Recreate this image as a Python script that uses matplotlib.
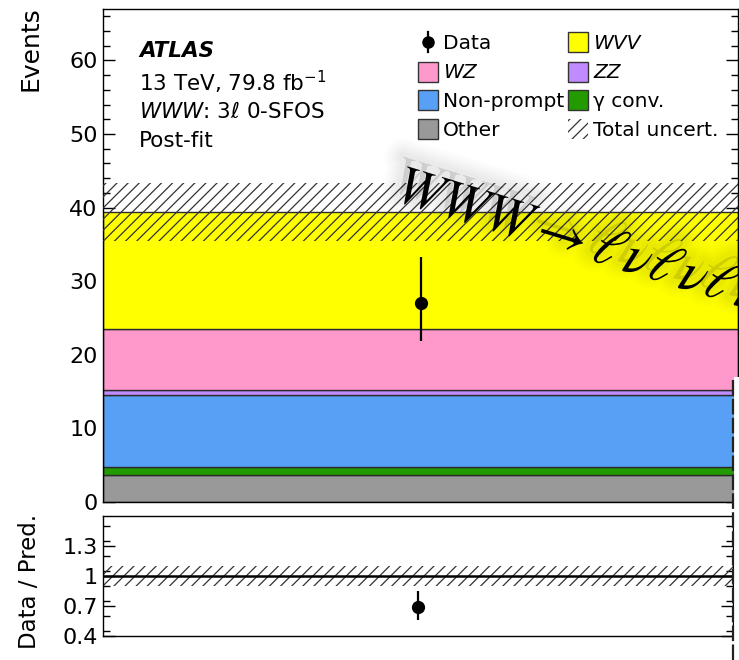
import matplotlib
matplotlib.use("Agg")
import matplotlib.pyplot as plt
import matplotlib.patheffects as pe
from matplotlib.patches import Rectangle
from matplotlib.lines import Line2D
from matplotlib.ticker import MultipleLocator, FixedLocator, FuncFormatter

# Post-fit yields, WWW 3l 0-SFOS signal region (stacked bottom -> top)
processes = ["Other", "γ conv.", "Non-prompt", "ZZ", "WZ", "WVV"]
yields = [3.63, 1.05, 9.84, 0.68, 8.30, 15.90]
colors = ["#999999", "#239a00", "#57a0f5", "#c08bff", "#ff99cc", "#ffff00"]
total_unc = [3.9]

data_obs = [27]
data_err_lo = [5.1]
data_err_hi = [6.25]

W, H = 739, 660
fig = plt.figure(figsize=(W / 100, H / 100), dpi=100)
plt.rcParams["hatch.linewidth"] = 0.9


def fx(x):
    return x / W


def fy(y):
    return 1 - y / H


edge = "#2b2b2b"
hatch_col = "#333333"

# ---------------- main panel ----------------
ax = fig.add_axes([fx(103), fy(501.7), (738 - 103) / W, (501.7 - 9) / H])
bottom = 0.0
for name, val, col in zip(processes, yields, colors):
    ax.bar(0.5, val, width=1.0, bottom=bottom, color=col, edgecolor=edge,
           linewidth=1.0, zorder=2)
    bottom += val
total = bottom

ax.bar(0.5, 2 * total_unc[0], width=1.0, bottom=total - total_unc[0],
       fill=False, hatch="///", edgecolor=hatch_col, linewidth=0, zorder=3)

ax.errorbar([0.5], data_obs, yerr=[data_err_lo, data_err_hi], fmt="o",
            color="black", markersize=8.5, elinewidth=1.6, capsize=0, zorder=5)

ax.set_xlim(0, 1)
ax.set_ylim(0, 67)
ax.yaxis.set_major_locator(MultipleLocator(10))
ax.yaxis.set_minor_locator(MultipleLocator(2))
ax.tick_params(which="both", direction="in", right=True, top=False,
               bottom=False, labelbottom=False, labelsize=16, width=1.0, pad=4)
ax.tick_params(which="major", length=8.6)
ax.tick_params(which="minor", length=5)
for s in ax.spines.values():
    s.set_linewidth(1.0)

fig.text(fx(30), fy(6), "Events", rotation=90, ha="center", va="top",
         fontsize=18)

# ATLAS label block
fig.text(fx(139), fy(57), "ATLAS", fontsize=15.5, fontweight="bold",
         fontstyle="italic", va="baseline")
fig.text(fx(139), fy(91), r"13 TeV, 79.8 fb$^{\mathregular{-1}}$",
         fontsize=15.5, va="baseline")
fig.text(fx(139), fy(118), r"$WWW$: 3$\ell$ 0-SFOS", fontsize=15.5,
         va="baseline")
fig.text(fx(139), fy(147), "Post-fit", fontsize=15.5, va="baseline")

# legend, two columns
row_y = [42, 71.5, 100, 128.5]
col_box = [418, 568]
col_txt = [443, 593]
leg_fs = 14.5
bw, bh = 20, 20
entries = [
    (0, 0, "data", "Data", "normal"),
    (0, 1, "WZ", "WZ", "italic"),
    (0, 2, "Non-prompt", "Non-prompt", "normal"),
    (0, 3, "Other", "Other", "normal"),
    (1, 0, "WVV", "WVV", "italic"),
    (1, 1, "ZZ", "ZZ", "italic"),
    (1, 2, "γ conv.", "γ conv.", "normal"),
    (1, 3, "unc", "Total uncert.", "normal"),
]
for col, row, key, label, style in entries:
    xb = col_box[col]
    yc = row_y[row]
    if key == "data":
        fig.add_artist(Line2D([fx(428)], [fy(yc)], marker="o", color="black",
                              markersize=8, transform=fig.transFigure))
        fig.add_artist(Line2D([fx(428), fx(428)], [fy(yc - 10), fy(yc + 10)],
                              color="black", lw=1.6, transform=fig.transFigure))
    elif key == "unc":
        fig.add_artist(Rectangle((fx(xb), fy(yc + bh / 2)), bw / W, bh / H,
                                 fill=False, hatch="///", edgecolor=hatch_col,
                                 linewidth=0, transform=fig.transFigure))
    else:
        c = colors[processes.index(key)]
        fig.add_artist(Rectangle((fx(xb), fy(yc + bh / 2)), bw / W, bh / H,
                                 facecolor=c, edgecolor="#333333",
                                 linewidth=1.0, transform=fig.transFigure))
    fig.text(fx(col_txt[col]), fy(yc + 7), label, fontsize=leg_fs,
             fontstyle=style, va="baseline", ha="left")

# ---------------- ratio panel ----------------
rax = fig.add_axes([fx(103), fy(636), (733 - 103) / W, (636 - 515.7) / H])
ratio = [d / total for d in data_obs]
r_lo = [e / total for e in data_err_lo]
r_hi = [e / total for e in data_err_hi]
rel_unc = total_unc[0] / total

rax.bar(0.5, 2 * rel_unc, width=1.0, bottom=1 - rel_unc, fill=False,
        hatch="///", edgecolor=hatch_col, linewidth=0, zorder=2)
rax.axhline(1.0, color="black", lw=1.8, zorder=3)
rax.errorbar([0.5], ratio, yerr=[r_lo, r_hi], fmt="o", color="black",
             markersize=8.5, elinewidth=1.6, capsize=0, zorder=5)
rax.set_xlim(0, 1)
rax.set_ylim(0.4, 1.6)
rax.yaxis.set_major_locator(FixedLocator([0.4, 0.7, 1.0, 1.3]))
rax.yaxis.set_minor_locator(MultipleLocator(0.15))
rax.yaxis.set_major_formatter(FuncFormatter(lambda v, p: "%g" % v))
rax.tick_params(which="both", direction="in", right=True, top=False,
                bottom=False, labelbottom=False, labelsize=16, width=1.0, pad=4)
rax.tick_params(which="major", length=8.6)
rax.tick_params(which="minor", length=5)
for s in rax.spines.values():
    s.set_linewidth(1.0)

fig.text(fx(30), fy(514), "Data / Pred.", rotation=90, ha="center", va="top",
         fontsize=16.5)

# process annotation across the panel, with a soft haze behind it
glow = [pe.Stroke(linewidth=lw, foreground="#404040", alpha=0.016,
                  offset=(-3, 7)) for lw in (26, 22, 18, 15, 12, 9, 6)]
fig.text(fx(393), fy(200), r"$WWW \rightarrow \ell\nu\ell\nu\ell\nu$",
         rotation=-17, rotation_mode="anchor", ha="left", va="baseline",
         fontsize=40, math_fontfamily="stix", zorder=6,
         path_effects=glow + [pe.Normal()])

# torn strip at the lower right edge
fig.add_artist(Rectangle((fx(733.5), 0), (W - 733.5) / W, 1 - 377 / H,
                         facecolor="white", edgecolor="none",
                         transform=fig.transFigure, zorder=10))
fig.add_artist(Line2D([fx(733), fx(733)], [0, fy(377)], color="#222222",
                      lw=1.6, ls=(0, (7, 1.5)), transform=fig.transFigure,
                      zorder=11))

fig.savefig("out.png", dpi=100)
